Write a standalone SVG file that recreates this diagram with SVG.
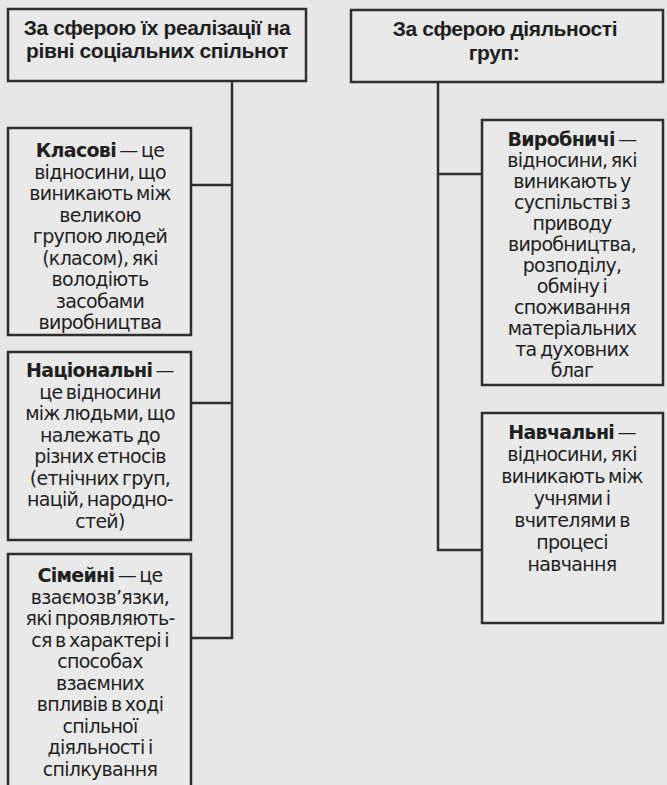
<svg xmlns="http://www.w3.org/2000/svg" width="667" height="785" viewBox="0 0 667 785">
<style>
.bg{fill:#e7e7e7}
.box{fill:#e9e9e9;stroke:#2e2e2e;stroke-width:2.5}
.ln{stroke:#2e2e2e;stroke-width:2.5;fill:none}
text{font-family:"Liberation Sans",Arial,sans-serif;fill:#1f1f1f;text-anchor:middle}
.t{font-size:21px;font-weight:bold;letter-spacing:-0.4px}
.b{font-family:"DejaVu Sans","Liberation Sans",sans-serif;font-size:19px;letter-spacing:-0.7px;word-spacing:-2px}
.b tspan.h{font-weight:bold}
</style>
<rect class="bg" x="0" y="0" width="667" height="785"/>
<g id="connectors">
<polyline class="ln" points="232,81 232,638 191,638"/>
<line class="ln" x1="191" y1="185" x2="232" y2="185"/>
<line class="ln" x1="191" y1="403" x2="232" y2="403"/>
<polyline class="ln" points="438,82 438,550 482,550"/>
<line class="ln" x1="438" y1="174" x2="482" y2="174"/>
</g>
<g id="n-realization">
<rect class="box" x="8" y="9" width="298" height="72"/>
<text class="t" x="157" y="35">За сферою їх реалізації на</text>
<text class="t" x="157" y="58">рівні соціальних спільнот</text>
</g>
<g id="n-activity">
<rect class="box" x="351" y="10" width="312" height="72"/>
<text class="t" x="505" y="36">За сферою діяльності</text>
<text class="t" x="494" y="60">груп:</text>
</g>
<g id="n-class">
<rect class="box" x="8" y="128" width="183" height="207"/>
<text class="b" x="100" y="157"><tspan class="h">Класові</tspan> — це</text>
<text class="b" x="100" y="178.5">відносини, що</text>
<text class="b" x="100" y="200">виникають між</text>
<text class="b" x="100" y="221.5">великою</text>
<text class="b" x="100" y="243">групою людей</text>
<text class="b" x="100" y="264.5">(класом), які</text>
<text class="b" x="100" y="286">володіють</text>
<text class="b" x="100" y="307.5">засобами</text>
<text class="b" x="100" y="329">виробництва</text>
</g>
<g id="n-national">
<rect class="box" x="8" y="352" width="183" height="188"/>
<text class="b" x="100" y="377"><tspan class="h">Національні</tspan> —</text>
<text class="b" x="100" y="398.5">це відносини</text>
<text class="b" x="100" y="420">між людьми, що</text>
<text class="b" x="100" y="441.5">належать до</text>
<text class="b" x="100" y="463">різних етносів</text>
<text class="b" x="100" y="484.5">(етнічних груп,</text>
<text class="b" x="100" y="506">націй, народно-</text>
<text class="b" x="100" y="527.5">стей)</text>
</g>
<g id="n-family">
<rect class="box" x="8" y="554" width="183" height="240"/>
<text class="b" x="100" y="582"><tspan class="h">Сімейні</tspan> — це</text>
<text class="b" x="100" y="603.5">взаємозв’язки,</text>
<text class="b" x="100" y="625">які проявляють-</text>
<text class="b" x="100" y="646.5">ся в характері і</text>
<text class="b" x="100" y="668">способах</text>
<text class="b" x="100" y="689.5">взаємних</text>
<text class="b" x="100" y="711">впливів в ході</text>
<text class="b" x="100" y="732.5">спільної</text>
<text class="b" x="100" y="754">діяльності і</text>
<text class="b" x="100" y="775.5">спілкування</text>
</g>
<g id="n-production">
<rect class="box" x="482" y="120" width="181" height="265"/>
<text class="b" x="572" y="146"><tspan class="h">Виробничі</tspan> —</text>
<text class="b" x="572" y="167">відносини, які</text>
<text class="b" x="572" y="188">виникають у</text>
<text class="b" x="572" y="209">суспільстві з</text>
<text class="b" x="572" y="230">приводу</text>
<text class="b" x="572" y="251">виробництва,</text>
<text class="b" x="572" y="272">розподілу,</text>
<text class="b" x="572" y="293">обміну і</text>
<text class="b" x="572" y="314">споживання</text>
<text class="b" x="572" y="335">матеріальних</text>
<text class="b" x="572" y="356">та духовних</text>
<text class="b" x="572" y="377">благ</text>
</g>
<g id="n-education">
<rect class="box" x="482" y="413" width="181" height="210"/>
<text class="b" x="572" y="439"><tspan class="h">Навчальні</tspan> —</text>
<text class="b" x="572" y="461">відносини, які</text>
<text class="b" x="572" y="483">виникають між</text>
<text class="b" x="572" y="505">учнями і</text>
<text class="b" x="572" y="527">вчителями в</text>
<text class="b" x="572" y="549">процесі</text>
<text class="b" x="572" y="571">навчання</text>
</g>
</svg>
